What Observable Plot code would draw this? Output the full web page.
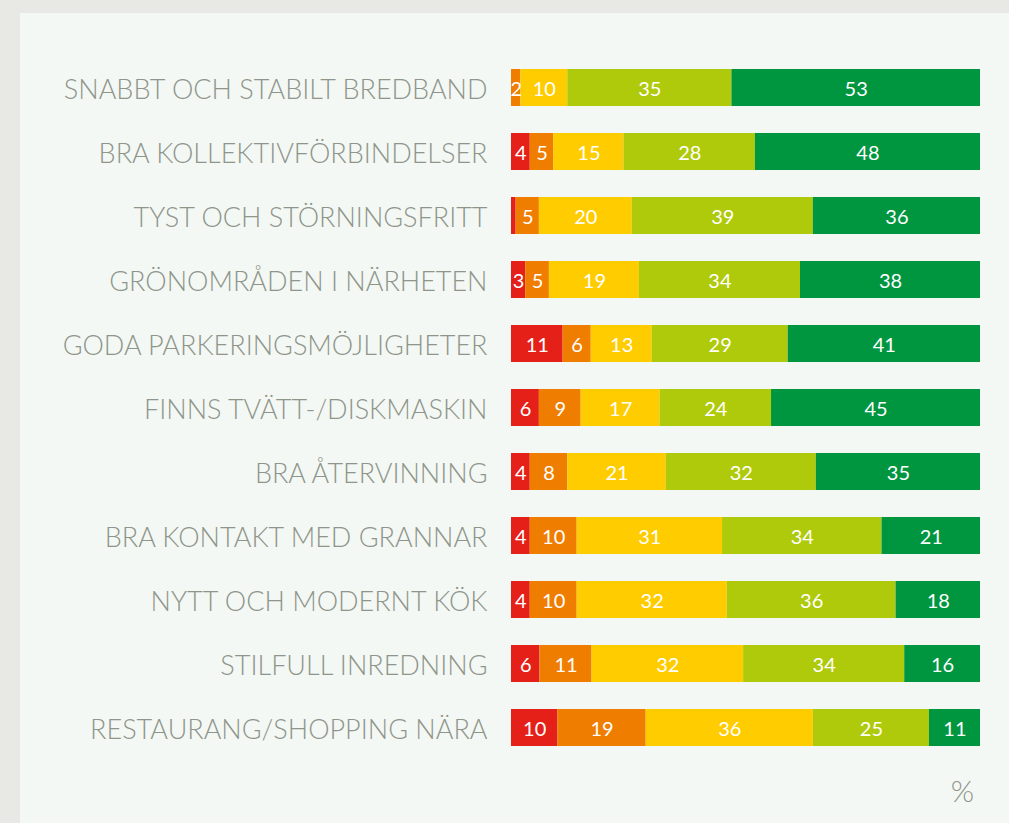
<!DOCTYPE html>
<html>
<head>
<meta charset="utf-8">
<script src="https://cdn.jsdelivr.net/npm/d3@7"></script>
<script src="https://cdn.jsdelivr.net/npm/@observablehq/plot@0.6"></script>
<style>
  html, body { margin: 0; padding: 0; background: #e8e9e5; width: 1009px; height: 823px; overflow: hidden; }
  #panel { position: absolute; left: 20px; top: 13px; width: 989px; height: 810px; background: #f4f8f4; }
  #panel svg { display: block; }
</style>
</head>
<body>
<div id="panel"></div>
<script>
const items = [
  "SNABBT OCH STABILT BREDBAND",
  "BRA KOLLEKTIVFÖRBINDELSER",
  "TYST OCH STÖRNINGSFRITT",
  "GRÖNOMRÅDEN I NÄRHETEN",
  "GODA PARKERINGSMÖJLIGHETER",
  "FINNS TVÄTT-/DISKMASKIN",
  "BRA ÅTERVINNING",
  "BRA KONTAKT MED GRANNAR",
  "NYTT OCH MODERNT KÖK",
  "STILFULL INREDNING",
  "RESTAURANG/SHOPPING NÄRA"
];
const levels = ["Inte alls viktigt", "Mindre viktigt", "Ganska viktigt", "Viktigt", "Mycket viktigt"];
const level1 = [0, 4, 1, 3, 11, 6, 4, 4, 4, 6, 10];
const level2 = [2, 5, 5, 5, 6, 9, 8, 10, 10, 11, 19];
const level3 = [10, 15, 20, 19, 13, 17, 21, 31, 32, 32, 36];
const level4 = [35, 28, 39, 34, 29, 24, 32, 34, 36, 34, 25];
const level5 = [53, 48, 36, 38, 41, 45, 35, 21, 18, 16, 11];
const levelColors = ["#e42019", "#ef7d00", "#ffcc00", "#afca0b", "#009640"];
const unit = "%";

const series = [level1, level2, level3, level4, level5];
const data = [];
items.forEach((item, i) => {
  levels.forEach((lvl, j) => {
    data.push({item, level: lvl, value: series[j][i]});
  });
});

const stackOpts = {x: "value", y: "item", z: "level", order: levels, offset: "normalize"};

const chart = Plot.plot({
  width: 989,
  height: 810,
  marginLeft: 491,
  marginRight: 29,
  marginTop: 42,
  marginBottom: 62,
  style: {background: "transparent", fontFamily: "Lato, sans-serif"},
  x: {domain: [0, 1], axis: null},
  y: {domain: items, paddingInner: 0.42, paddingOuter: 0.21, label: null},
  color: {domain: levels, range: levelColors},
  marks: [
    Plot.barX(data, Plot.stackX({...stackOpts, fill: "level"})),
    Plot.text(data, Plot.stackX({
      ...stackOpts,
      text: d => d.value >= 2 ? String(d.value) : "",
      fill: "white",
      fontSize: 20,
      dy: 1.5,
      fontFamily: "Lato, sans-serif"
    })),
    Plot.axisY({
      tickSize: 0,
      tickPadding: 24,
      fontSize: 27,
      fontWeight: 300,
      dy: 2,
      fill: "#8e958b",
      label: null
    }),
    Plot.text([unit], {
      frameAnchor: "bottom-right",
      dx: -18,
      dy: 40,
      fontSize: 30,
      fontWeight: 300,
      fill: "#8e958b",
      textAnchor: "middle"
    })
  ]
});
document.getElementById("panel").appendChild(chart);
</script>
</body>
</html>
